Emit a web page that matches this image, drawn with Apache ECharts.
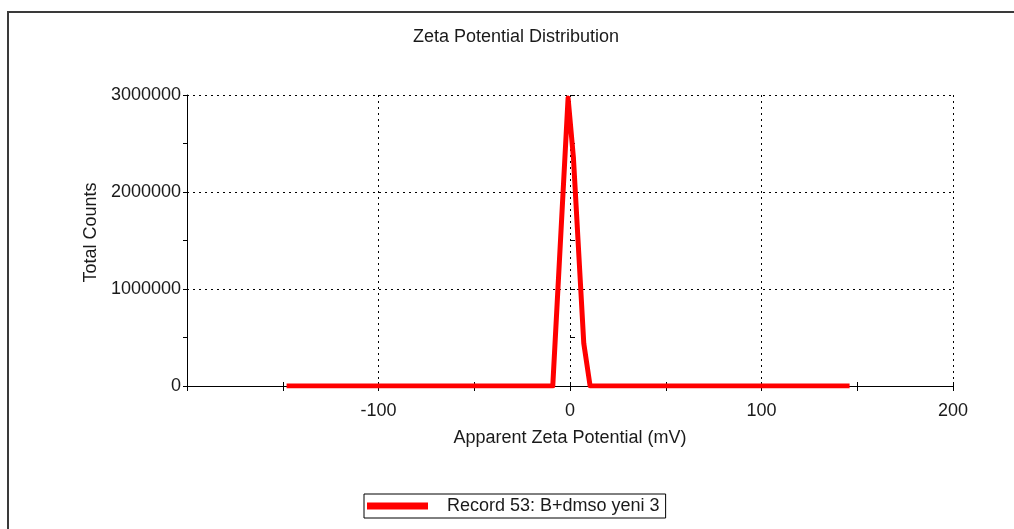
<!DOCTYPE html>
<html>
<head>
<meta charset="utf-8">
<script src="https://cdn.jsdelivr.net/npm/echarts@6/dist/echarts.min.js"></script>
<style>
  html, body { margin: 0; padding: 0; background: #ffffff; }
  #chart { width: 1014px; height: 529px; }
</style>
</head>
<body>
<div id="chart"></div>
<script>
// Data
const zetaMv = [-148, -9, -1, 1.8, 7.2, 10.5, 146];
const totalCounts = [0, 0, 2970000, 2350000, 440000, 0, 0];
const seriesName = 'Record 53: B+dmso yeni 3';
const xTicks = [-200, -100, 0, 100, 200];
const yTicks = [0, 1000000, 2000000, 3000000];

const FONT = "'Liberation Sans', Arial, Helvetica, sans-serif";
const TXT = '#1a1a1a';

const points = zetaMv.map((x, i) => [x, totalCounts[i]]);

const chart = echarts.init(document.getElementById('chart'), null, { renderer: 'canvas' });

const xBase = {
  type: 'value',
  min: xTicks[0],
  max: xTicks[xTicks.length - 1],
  interval: xTicks[1] - xTicks[0],
  position: 'bottom',
  gridIndex: 0
};
const yBase = {
  type: 'value',
  min: yTicks[0],
  max: yTicks[yTicks.length - 1],
  interval: yTicks[1] - yTicks[0],
  position: 'left',
  gridIndex: 0
};

chart.setOption({
  animation: false,
  backgroundColor: '#ffffff',
  textStyle: { fontFamily: FONT },
  title: {
    text: 'Zeta Potential Distribution',
    left: 413,
    top: 28,
    padding: 0,
    textStyle: { fontFamily: FONT, fontSize: 18, fontWeight: 'normal', color: TXT }
  },
  grid: { left: 187, right: 61, top: 95, bottom: 143, containLabel: false },
  xAxis: [
    Object.assign({}, xBase, {
      name: 'Apparent Zeta Potential (mV)',
      nameLocation: 'middle',
      nameGap: 43,
      nameTextStyle: { fontFamily: FONT, fontSize: 18, color: TXT },
      axisLine: { show: true, onZero: false, lineStyle: { color: '#000', width: 1 } },
      axisTick: { show: true, inside: false, length: 5, lineStyle: { color: '#000', width: 1 } },
      minorTick: { show: true, splitNumber: 2, length: 5, lineStyle: { color: '#000', width: 1 } },
      axisLabel: {
        margin: 16,
        fontFamily: FONT, fontSize: 18, color: TXT,
        formatter: v => (v === xTicks[0] ? '' : String(v))
      },
      splitLine: { show: true, lineStyle: { color: '#000', width: 1, type: [2, 4] } }
    }),
    Object.assign({}, xBase, {
      axisLine: { show: false },
      axisTick: { show: true, inside: true, length: 4, lineStyle: { color: '#000', width: 1 } },
      minorTick: { show: true, splitNumber: 2, length: 4, lineStyle: { color: '#000', width: 1 } },
      axisLabel: { show: false },
      splitLine: { show: false }
    })
  ],
  yAxis: [
    Object.assign({}, yBase, {
      name: 'Total Counts',
      nameLocation: 'middle',
      nameGap: 78,
      nameTextStyle: { fontFamily: FONT, fontSize: 18, color: TXT, padding: [0, 0, 0, 16] },
      axisLine: { show: true, onZero: false, lineStyle: { color: '#000', width: 1 } },
      axisTick: { show: true, inside: false, length: 4, lineStyle: { color: '#000', width: 1 } },
      minorTick: { show: true, splitNumber: 2, length: 4, lineStyle: { color: '#000', width: 1 } },
      axisLabel: {
        margin: 6, fontFamily: FONT, fontSize: 18, color: TXT,
        formatter: v => String(v)
      },
      splitLine: { show: true, lineStyle: { color: '#000', width: 1, type: [2, 4] } }
    }),
    Object.assign({}, yBase, {
      axisLine: { show: false },
      axisTick: { show: true, inside: true, length: 5, lineStyle: { color: '#000', width: 1 } },
      minorTick: { show: true, splitNumber: 2, length: 5, lineStyle: { color: '#000', width: 1 } },
      axisLabel: { show: false },
      splitLine: { show: false }
    })
  ],
  legend: {
    show: true,
    data: [seriesName],
    left: 364,
    top: 494,
    orient: 'horizontal',
    padding: [3, 6, 3, 3],
    borderColor: '#000',
    borderWidth: 1,
    icon: 'rect',
    itemWidth: 61,
    itemHeight: 7,
    selectedMode: false,
    textStyle: { fontFamily: FONT, fontSize: 18, color: TXT, padding: [0, 0, 0, 14] }
  },
  series: [{
    name: seriesName,
    type: 'line',
    xAxisIndex: 0,
    yAxisIndex: 0,
    data: points,
    showSymbol: false,
    symbol: 'none',
    color: '#ff0000',
    lineStyle: { color: '#ff0000', width: 5, join: 'round', cap: 'butt' },
    z: 5
  }],
  graphic: [{
    type: 'rect',
    shape: { x: 8, y: 12, width: 1100, height: 600 },
    style: { fill: 'none', stroke: '#3a3a3a', lineWidth: 2 },
    silent: true,
    z: -1
  }]
});
</script>
</body>
</html>
